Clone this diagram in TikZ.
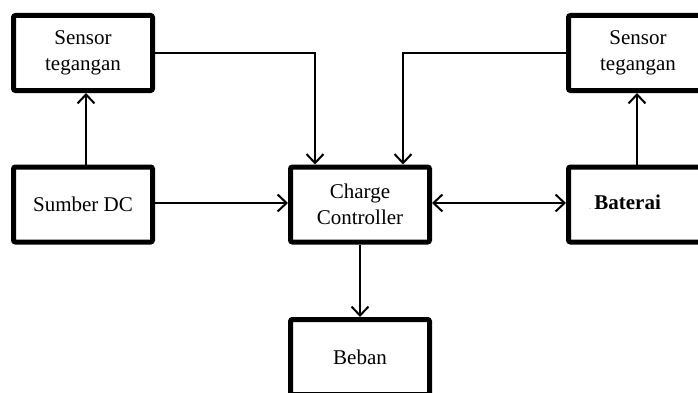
\documentclass[tikz,border=0pt]{standalone}
\usepackage{fontspec}
\setmainfont{Liberation Serif}
\usetikzlibrary{arrows.meta,calc}

\tikzset{
  block/.style={draw=black, line width=5pt, rounded corners=2pt, fill=white,
    minimum width=139pt, minimum height=75pt, inner sep=0pt,
    align=center, font=\fontsize{21}{26}\selectfont},
  link/.style={line width=2pt, -{Straight Barb[length=9pt, width=17pt, line width=2pt]}},
  biglink/.style={line width=2pt, {Straight Barb[length=9pt, width=17pt, line width=2pt]}-{Straight Barb[length=9pt, width=17pt, line width=2pt]}},
}

\begin{document}
\begin{tikzpicture}[x=1pt, y=1pt]
  \useasboundingbox (0,0) rectangle (698,392);

  % blocks
  \node[block] (sensL) at (83,339)   {Sensor\\tegangan};
  \node[block] (dc)    at (83,187.5) {Sumber DC};
  \node[block] (cc)    at (360,187.5) {Charge\\Controller};
  \node[block] (load)  at (360,35)   {Beban};
  \node[block] (sensR) at (638,339)  {Sensor\\tegangan};
  \node[block] (batt)  at (638,187.5) {};
  \node[font=\fontsize{21}{26}\selectfont, inner sep=0pt] (battlbl) at (625,190)
    {{\fontsize{7}{7}\selectfont\color{orange!70!black}.}\,\textbf{Baterai}};

  % connectors
  \draw[link] (sensL.east) -| ([xshift=-45pt]cc.north);
  \draw[link] (sensR.west) -| ([xshift=43pt]cc.north);
  \draw[link] (dc.east |- 0,189) -- (cc.west |- 0,189);
  \draw[biglink] (cc.east |- 0,189) -- (batt.west |- 0,189);
  \draw[link] ([xshift=3pt]dc.north) -- ([xshift=3pt]sensL.south);
  \draw[link] ([xshift=-1pt]batt.north) -- ([xshift=-1pt]sensR.south);
  \draw[link] (cc.south) -- (load.north);
\end{tikzpicture}
\end{document}
